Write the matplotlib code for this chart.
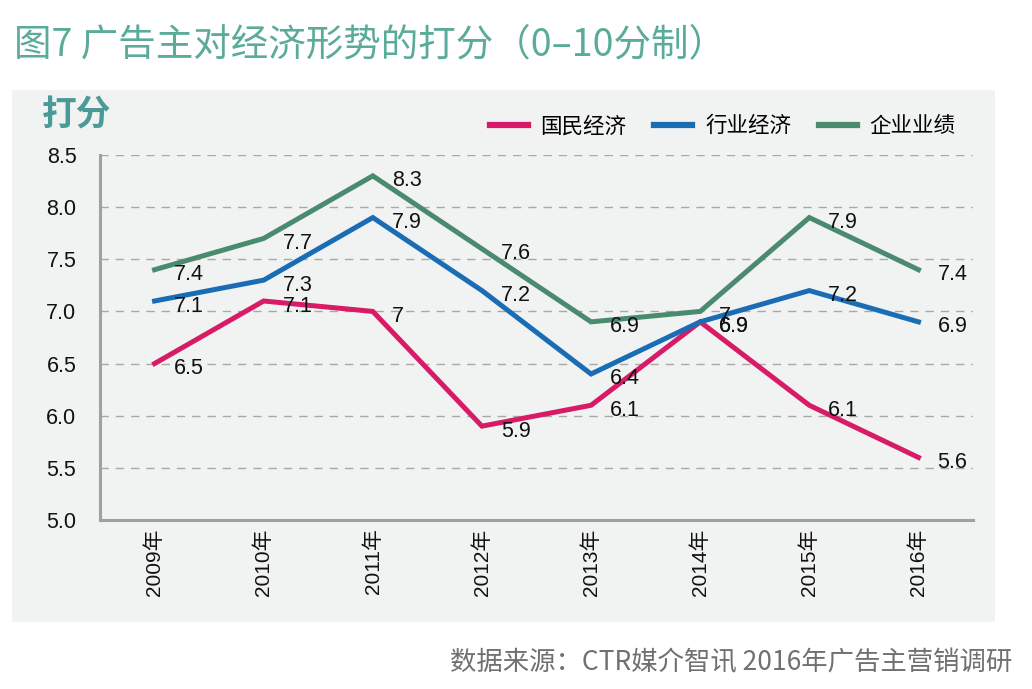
import matplotlib
matplotlib.use("Agg")
import matplotlib.pyplot as plt
from matplotlib.patches import Rectangle

plt.rcParams['font.family'] = ['Noto Sans CJK SC', 'DejaVu Sans']

years = ["2009年", "2010年", "2011年", "2012年", "2013年", "2014年", "2015年", "2016年"]
national = [6.5, 7.1, 7.0, 5.9, 6.1, 6.9, 6.1, 5.6]
industry = [7.1, 7.3, 7.9, 7.2, 6.4, 6.9, 7.2, 6.9]
company = [7.4, 7.7, 8.3, 7.6, 6.9, 7.0, 7.9, 7.4]
series_names = ["国民经济", "行业经济", "企业业绩"]
yticks = [5.0, 5.5, 6.0, 6.5, 7.0, 7.5, 8.0, 8.5]

colors = ["#d81b66", "#1a6db5", "#4a8a6e"]
teal = "#5aab9a"

fig = plt.figure(figsize=(10.32, 6.89), dpi=100)
fig.patch.set_facecolor("white")
bg = Rectangle((12/1032, 1-622/689), 983/1032, 532/689,
               transform=fig.transFigure, facecolor="#f1f2f2",
               edgecolor="none", zorder=-10)
fig.patches.append(bg)

ax = fig.add_axes([100/1032, 1-520/689, 873/1032, 365/689])
ax.set_facecolor("none")
ax.set_zorder(1)

x = list(range(len(years)))
for vals, name, c in zip([national, industry, company], series_names, colors):
    ax.plot(x, vals, color=c, lw=3.6, label=name, solid_joinstyle='miter', zorder=3)
    for xi, v in zip(x, vals):
        lbl = f"{v:g}"
        ax.annotate(lbl, (xi, v), xytext=(19, -5), textcoords='offset pixels',
                    ha='left', va='center', fontsize=15.5, color='#111111',
                    family=['Liberation Sans', 'DejaVu Sans'], zorder=4)

ax.set_xlim(-0.5, 7.5)
ax.set_ylim(5.0, 8.5)
ax.set_yticks(yticks)
ax.set_yticklabels([f"{t:.1f}" for t in yticks], family=['Liberation Sans', 'DejaVu Sans'],
                   fontsize=15.5, color='#111111')
ax.set_xticks(x)
ax.set_xticklabels(years, rotation=90, fontsize=15, color='#111111',
                   family=['Liberation Sans', 'Noto Sans CJK SC'])
ax.tick_params(axis='both', length=0)
ax.tick_params(axis='y', pad=17)
ax.tick_params(axis='x', pad=6)
for t in yticks[1:]:
    ax.axhline(t, color='#a8a8a8', lw=1.0, ls=(0, (6, 5)), zorder=1)
for s in ['top', 'right']:
    ax.spines[s].set_visible(False)
for s in ['left', 'bottom']:
    ax.spines[s].set_color('#a0a0a0')
    ax.spines[s].set_linewidth(2.2)

leg = ax.legend(loc='upper right', ncol=3,
                frameon=False, fontsize=15.5, handlelength=1.75, columnspacing=1.3,
                handletextpad=0.6)
leg.set_bbox_to_anchor((975/1032, 1-96/689), transform=fig.transFigure)
for line in leg.get_lines():
    line.set_linewidth(4.5)

fig.text(14/1032, 1-45/689, "图7 广告主对经济形势的打分（0–10分制）", fontsize=27,
         color=teal, va='center', ha='left', fontweight='light')
fig.text(42/1032, 1-115/689, "打分", fontsize=25, color="#4a9a98", fontweight='bold',
         va='center', ha='left')
fig.text(1012/1032, 1-663/689, "数据来源：CTR媒介智讯 2016年广告主营销调研", fontsize=19,
         color='#707070', va='center', ha='right', fontweight='light')

fig.savefig("out.png", dpi=100)
